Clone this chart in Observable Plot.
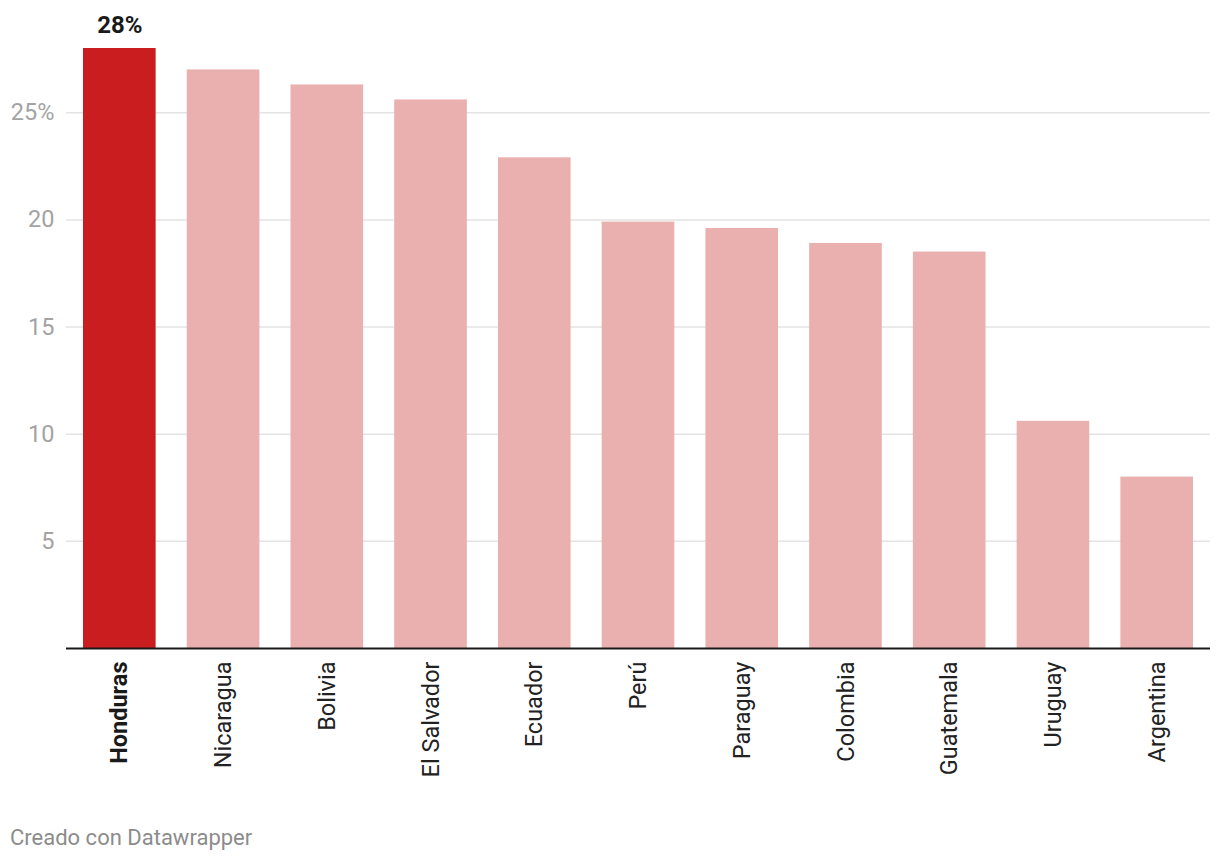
<!DOCTYPE html>
<html>
<head>
<meta charset="utf-8">
<script src="https://cdn.jsdelivr.net/npm/d3@7"></script>
<script src="https://cdn.jsdelivr.net/npm/@observablehq/plot@0.6"></script>
<style>
  html, body { margin: 0; padding: 0; background: #fff; }
  body { width: 1220px; height: 864px; position: relative; font-family: Roboto, sans-serif; }
  #chart svg { display: block; }
  #caption { position: absolute; left: 10px; top: 827px; font-size: 22px; line-height: 22px; color: #8c8c8c; font-family: Roboto, sans-serif; }
</style>
</head>
<body>
<div id="chart"></div>
<div id="caption">Creado con Datawrapper</div>
<script>
const countries = ["Honduras", "Nicaragua", "Bolivia", "El Salvador", "Ecuador", "Perú", "Paraguay", "Colombia", "Guatemala", "Uruguay", "Argentina"];
const values = [28, 27.0, 26.3, 25.6, 22.9, 19.9, 19.6, 18.9, 18.5, 10.6, 8.0];
const highlight = "Honduras";
const yTicks = [5, 10, 15, 20, 25];
const highlightColor = "#c91d1f";
const baseColor = "#eab0b0";

const data = countries.map((c, i) => ({country: c, value: values[i]}));
const others = countries.filter(c => c !== highlight);

const chart = Plot.plot({
  width: 1220,
  height: 800,
  marginTop: 48,
  marginLeft: 66,
  marginRight: 10,
  marginBottom: 152,
  style: {fontFamily: "Roboto, sans-serif", background: "#fff"},
  x: {domain: countries, paddingInner: 0.3, paddingOuter: 0.164, round: false, axis: null, label: null},
  y: {domain: [0, 28], axis: null, label: null},
  marks: [
    Plot.gridY(yTicks, {stroke: "#e3e3e3", strokeOpacity: 1, strokeWidth: 1.5}),
    Plot.axisY(yTicks, {
      label: null, tickSize: 0, tickPadding: 12, fontSize: 23.5, fill: "#a3a3a3",
      tickFormat: d => d === 25 ? "25%" : String(d)
    }),
    Plot.barY(data, {x: "country", y: "value", fill: d => d.country === highlight ? highlightColor : baseColor}),
    Plot.ruleY([0], {stroke: "#1a1a1a", strokeWidth: 2}),
    Plot.text(data.filter(d => d.country === highlight), {
      x: "country", y: "value", text: d => Math.round(d.value) + "%",
      dy: -23, fontSize: 24, fontWeight: "bold", fill: "#1a1a1a"
    }),
    Plot.axisX([highlight], {label: null, tickSize: 0, tickPadding: 13, tickRotate: -90, fontSize: 23.5, fontWeight: "bold", fill: "#1a1a1a"}),
    Plot.axisX(others, {label: null, tickSize: 0, tickPadding: 13, tickRotate: -90, fontSize: 23.5, fill: "#222"})
  ]
});
document.getElementById("chart").appendChild(chart);
</script>
</body>
</html>
